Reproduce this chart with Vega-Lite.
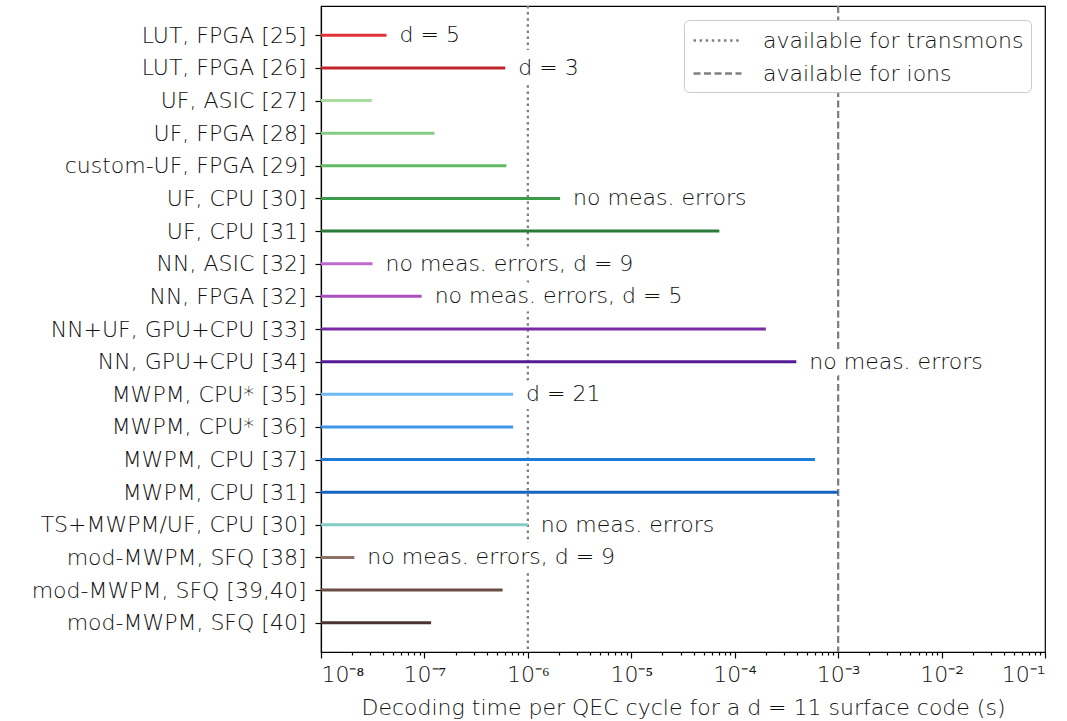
{
  "$schema": "https://vega.github.io/schema/vega-lite/v6.json",
  "width": 724,
  "height": 646,
  "autosize": {"type": "none"},
  "padding": {"left": 321, "top": 6, "right": 22, "bottom": 69},
  "config": {
    "font": "DejaVu Sans",
    "view": {"stroke": "black", "strokeWidth": 1.2},
    "axis": {"domainColor": "black", "tickColor": "black", "labelColor": "#111", "titleColor": "#111", "grid": false, "domainWidth": 1.2, "tickWidth": 1.2, "labelFontWeight": 300, "titleFontWeight": 300},
    "legend": {"labelFontWeight": 300}
  },
  "datasets": {
    "decoders": [
      {"name": "LUT, FPGA [25]", "value": 4.3e-8, "note": "d = 5"},
      {"name": "LUT, FPGA [26]", "value": 6.05e-7, "note": "d = 3"},
      {"name": "UF, ASIC [27]", "value": 3.1e-8, "note": null},
      {"name": "UF, FPGA [28]", "value": 1.25e-7, "note": null},
      {"name": "custom-UF, FPGA [29]", "value": 6.2e-7, "note": null},
      {"name": "UF, CPU [30]", "value": 2.05e-6, "note": "no meas. errors"},
      {"name": "UF, CPU [31]", "value": 7.1e-5, "note": null},
      {"name": "NN, ASIC [32]", "value": 3.15e-8, "note": "no meas. errors, d = 9"},
      {"name": "NN, FPGA [32]", "value": 9.4e-8, "note": "no meas. errors, d = 5"},
      {"name": "NN+UF, GPU+CPU [33]", "value": 2.0e-4, "note": null},
      {"name": "NN, GPU+CPU [34]", "value": 3.94e-4, "note": "no meas. errors"},
      {"name": "MWPM, CPU* [35]", "value": 7.2e-7, "note": "d = 21"},
      {"name": "MWPM, CPU* [36]", "value": 7.2e-7, "note": null},
      {"name": "MWPM, CPU [37]", "value": 5.96e-4, "note": null},
      {"name": "MWPM, CPU [31]", "value": 1.0e-3, "note": null},
      {"name": "TS+MWPM/UF, CPU [30]", "value": 1.0e-6, "note": "no meas. errors"},
      {"name": "mod-MWPM, SFQ [38]", "value": 2.1e-8, "note": "no meas. errors, d = 9"},
      {"name": "mod-MWPM, SFQ [39,40]", "value": 5.7e-7, "note": null},
      {"name": "mod-MWPM, SFQ [40]", "value": 1.16e-7, "note": null}
    ],
    "limits": [
      {"t": 1e-6, "type": "available for transmons"},
      {"t": 1e-3, "type": "available for ions"}
    ]
  },
  "layer": [
    {
      "data": {"name": "limits"},
      "mark": {"type": "rule", "color": "#808080", "strokeWidth": 2.3},
      "encoding": {
        "x": {
          "field": "t", "type": "quantitative",
          "scale": {"type": "log", "domain": [1e-8, 0.1], "nice": false},
          "axis": {
            "values": [1e-8,2e-8,3e-8,4e-8,5e-8,6e-8,7e-8,8e-8,9e-8,1e-7,2e-7,3e-7,4e-7,5e-7,6e-7,7e-7,8e-7,9e-7,1e-6,2e-6,3e-6,4e-6,5e-6,6e-6,7e-6,8e-6,9e-6,1e-5,2e-5,3e-5,4e-5,5e-5,6e-5,7e-5,8e-5,9e-5,1e-4,2e-4,3e-4,4e-4,5e-4,6e-4,7e-4,8e-4,9e-4,1e-3,2e-3,3e-3,4e-3,5e-3,6e-3,7e-3,8e-3,9e-3,1e-2,2e-2,3e-2,4e-2,5e-2,6e-2,7e-2,8e-2,9e-2,1e-1],
            "labelExpr": "abs(log(datum.value)/LN10 - round(log(datum.value)/LN10)) < 0.01 ? ['10⁻⁸','10⁻⁷','10⁻⁶','10⁻⁵','10⁻⁴','10⁻³','10⁻²','10⁻¹'][round(log(datum.value)/LN10)+8] : ''",
            "tickSize": {"condition": {"test": "abs(log(datum.value)/LN10 - round(log(datum.value)/LN10)) < 0.01", "value": 6}, "value": 3},
            "labelFontSize": 22, "labelPadding": 6, "labelOverlap": false, "labelBound": false,
            "title": "Decoding time per QEC cycle for a d = 11 surface code (s)",
            "titleFontSize": 22, "titlePadding": 12
          }
        },
        "strokeDash": {
          "field": "type", "type": "nominal",
          "scale": {"domain": ["available for transmons", "available for ions"], "range": [[2.5, 3.6], [7, 3.5]]},
          "legend": {
            "title": null, "orient": "top-right", "offset": 14,
            "fillColor": "white", "strokeColor": "#cccccc", "cornerRadius": 5,
            "padding": 7, "labelFontSize": 22, "labelColor": "#111", "rowPadding": 8, "labelLimit": 0,
            "symbolType": "M-2,0H2", "symbolSize": 576, "symbolStrokeWidth": 2.3,
            "symbolStrokeColor": "#808080", "symbolOffset": 13, "labelOffset": 32
          }
        }
      }
    },
    {
      "data": {"name": "decoders"},
      "mark": {"type": "rule", "strokeWidth": 3},
      "encoding": {
        "y": {
          "field": "name", "type": "nominal", "sort": null,
          "scale": {"type": "point", "padding": 0.9},
          "axis": {"title": null, "labelFontSize": 22, "tickSize": 6, "labelPadding": 9, "labelLimit": 0}
        },
        "x": {"field": "value", "type": "quantitative"},
        "x2": {"datum": 1e-8},
        "color": {
          "field": "name", "type": "nominal", "sort": null, "legend": null,
          "scale": {
            "domain": ["LUT, FPGA [25]", "LUT, FPGA [26]", "UF, ASIC [27]", "UF, FPGA [28]", "custom-UF, FPGA [29]", "UF, CPU [30]", "UF, CPU [31]", "NN, ASIC [32]", "NN, FPGA [32]", "NN+UF, GPU+CPU [33]", "NN, GPU+CPU [34]", "MWPM, CPU* [35]", "MWPM, CPU* [36]", "MWPM, CPU [37]", "MWPM, CPU [31]", "TS+MWPM/UF, CPU [30]", "mod-MWPM, SFQ [38]", "mod-MWPM, SFQ [39,40]", "mod-MWPM, SFQ [40]"],
            "range": ["#e03236", "#c0242c", "#a9dba0", "#86cc85", "#62bb62", "#3d9a4a", "#2a7a3a", "#c06ad0", "#ab4ec0", "#7b2aa6", "#541a94", "#6cb8f2", "#3d97e6", "#1e7bd6", "#1464c0", "#84ccc4", "#8f7168", "#6b4c42", "#4a3330"]
          }
        }
      }
    },
    {
      "data": {"name": "decoders"},
      "transform": [{"filter": "datum.note != null"}],
      "mark": {"type": "text", "align": "left", "baseline": "middle", "dx": 13, "fontSize": 22, "fontWeight": 300, "fill": "white", "stroke": "white", "strokeWidth": 18, "strokeJoin": "round"},
      "encoding": {
        "y": {"field": "name", "type": "nominal", "sort": null},
        "x": {"field": "value", "type": "quantitative"},
        "text": {"field": "note"}
      }
    },
    {
      "data": {"name": "decoders"},
      "transform": [{"filter": "datum.note != null"}],
      "mark": {"type": "text", "align": "left", "baseline": "middle", "dx": 13, "fontSize": 22, "fontWeight": 300, "color": "#111"},
      "encoding": {
        "y": {"field": "name", "type": "nominal", "sort": null},
        "x": {"field": "value", "type": "quantitative"},
        "text": {"field": "note"}
      }
    }
  ]
}
